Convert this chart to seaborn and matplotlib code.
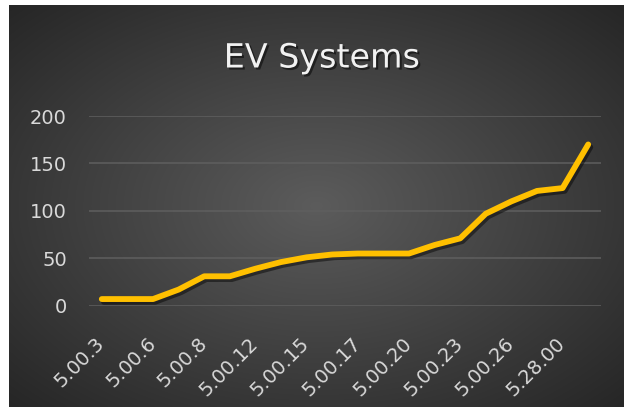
#EV systems chart

#Import packages
import seaborn as sns
import matplotlib.pyplot as plt
import matplotlib.patheffects as pe
import pandas as pd
import numpy as np

#Data (every other build label is shown on the axis)
builds = ['5.00.3', '5.00.4', '5.00.6', '5.00.7', '5.00.8', '5.00.10',
          '5.00.12', '5.00.13', '5.00.15', '5.00.16', '5.00.17', '5.00.18',
          '5.00.20', '5.00.21', '5.00.23', '5.00.24', '5.00.26', '5.00.27',
          '5.28.00', '5.28.01']
systems = [7, 7, 7, 17, 31, 31, 39, 46, 51, 54, 55, 55, 55, 64, 71, 97,
           110, 121, 124, 170]
yticks = [0, 50, 100, 150, 200]

data = pd.DataFrame({'build': builds, 'systems': systems})

sns.set_style('dark')
plt.rcParams['font.family'] = ['DejaVu Sans']

fig = plt.figure(figsize=(6.26, 4.07), dpi=100)
fig.patch.set_facecolor('white')

#dark panel with a radial gradient, like the office chart style
bg = fig.add_axes([9/626, 0, 615/626, 402/407])
gx, gy = np.meshgrid(np.linspace(-1, 1, 300), np.linspace(-1, 1, 200))
r = np.clip(np.sqrt(gx**2 + gy**2) / np.sqrt(2), 0, 1)
c_in, c_out = np.array([0.36, 0.36, 0.36]), np.array([0.15, 0.15, 0.15])
img = c_in + (c_out - c_in) * r[..., None]
bg.imshow(img, aspect='auto', extent=[0, 1, 0, 1], interpolation='bilinear')
bg.set_axis_off()

ax = fig.add_axes([89/626, 1 - 305.7/407, 512/626, 189.7/407])
ax.set_facecolor('none')
sns.lineplot(data=data, x='build', y='systems', sort=False, ax=ax,
             color='#FFC000', linewidth=4.2, solid_capstyle='round',
             solid_joinstyle='round', clip_on=False,
             path_effects=[pe.SimpleLineShadow(offset=(1.5, -2), shadow_color='black', alpha=0.45),
                           pe.Normal()])

ax.set_xlim(-0.5, len(builds) - 0.5)
ax.set_ylim(0, 200)
ax.set_yticks(yticks)
ax.set_yticklabels([str(v) for v in yticks])
ax.set_xticks(range(0, len(builds), 2))
ax.set_xticklabels(builds[::2], rotation=45, ha='right', va='center',
                   rotation_mode='anchor')
ax.tick_params(axis='y', length=0, pad=16, labelsize=14, labelcolor='#d9d9d9')
ax.tick_params(axis='x', length=0, pad=25, labelsize=14, labelcolor='#d9d9d9')
ax.grid(axis='y', color='#5f5f5f', linewidth=1.1)
ax.grid(axis='x', visible=False)
for s in ax.spines.values():
    s.set_visible(False)
ax.set_xlabel('')
ax.set_ylabel('')

fig.text(322/626, 1 - 58/407, 'EV Systems', ha='center', va='center',
         fontsize=24, color='#f2f2f2',
         path_effects=[pe.SimplePatchShadow(offset=(1.5, -1.5), shadow_rgbFace='black', alpha=0.5),
                       pe.Normal()])

fig.savefig('out.png', dpi=100)
